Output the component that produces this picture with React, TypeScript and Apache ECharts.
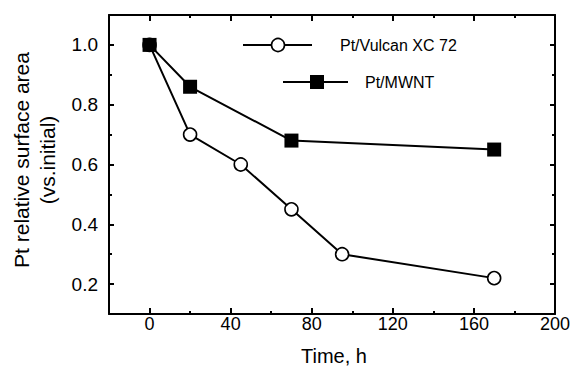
import React, { useEffect, useRef } from "react";
import * as echarts from "echarts";

const seriesNames = ["Pt/Vulcan XC 72", "Pt/MWNT"];
const vulcanTime = [0, 20, 45, 70, 95, 170];
const vulcanArea = [1.0, 0.7, 0.6, 0.45, 0.3, 0.22];
const mwntTime = [0, 20, 70, 170];
const mwntArea = [1.0, 0.86, 0.68, 0.65];
const xMajorTicks = [0, 40, 80, 120, 160, 200];
const xMinorTicks = [20, 60, 100, 140, 180];
const yMajorTicks = [0.2, 0.4, 0.6, 0.8, 1.0];
const yMinorTicks = [0.3, 0.5, 0.7, 0.9];
const xTitle = "Time, h";
const yTitle = "Pt relative surface area\n(vs.initial)";

const FONT = "'Liberation Sans', Arial, sans-serif";

export default function App() {
  const ref = useRef<HTMLDivElement>(null);
  useEffect(() => {
    document.body.style.margin = "0";
    const chart = echarts.init(ref.current!, undefined, { renderer: "svg" });
    const black = "#000";
    const mkX = (pos: string, vals: number[], len: number, labels: boolean, line: boolean) => ({
      type: "value",
      position: pos,
      min: -20,
      max: 200,
      splitLine: { show: false },
      axisLine: { show: line, onZero: false, lineStyle: { color: black, width: 2 } },
      axisTick: { show: true, inside: true, length: len, customValues: vals, lineStyle: { color: black, width: 2 } },
      axisLabel: labels
        ? { show: true, customValues: vals, color: black, fontSize: 18, fontFamily: FONT, margin: 1 }
        : { show: false },
    });
    const mkY = (pos: string, vals: number[], len: number, labels: boolean, line: boolean) => ({
      type: "value",
      position: pos,
      min: 0.1,
      max: 1.1,
      splitLine: { show: false },
      axisLine: { show: line, onZero: false, lineStyle: { color: black, width: 2 } },
      axisTick: { show: true, inside: true, length: len, customValues: vals, lineStyle: { color: black, width: 2 } },
      axisLabel: labels
        ? {
            show: true,
            customValues: vals,
            color: black,
            fontSize: 19,
            fontFamily: FONT,
            margin: 11,
            formatter: (v: number) => v.toFixed(1),
          }
        : { show: false },
    });
    chart.setOption({
      animation: false,
      grid: { left: 109, top: 15, right: 10, bottom: 55, containLabel: false },
      xAxis: [
        mkX("bottom", xMajorTicks, 6, true, true),
        mkX("bottom", xMinorTicks, 3, false, false),
        mkX("top", xMajorTicks, 6, false, true),
        mkX("top", xMinorTicks, 3, false, false),
      ],
      yAxis: [
        mkY("left", yMajorTicks, 5, true, true),
        mkY("left", yMinorTicks, 3, false, false),
        mkY("right", yMajorTicks, 5, false, true),
        mkY("right", yMinorTicks, 3, false, false),
      ],
      series: [
        {
          name: seriesNames[0],
          type: "line",
          xAxisIndex: 0,
          yAxisIndex: 0,
          data: vulcanTime.map((t, i) => [t, vulcanArea[i]]),
          symbol: "circle",
          symbolSize: 13,
          lineStyle: { color: black, width: 2 },
          itemStyle: { color: "#fff", borderColor: black, borderWidth: 1.6 },
          z: 2,
        },
        {
          name: seriesNames[1],
          type: "line",
          xAxisIndex: 0,
          yAxisIndex: 0,
          data: mwntTime.map((t, i) => [t, mwntArea[i]]),
          symbol: "rect",
          symbolSize: 14,
          lineStyle: { color: black, width: 2 },
          itemStyle: { color: black, borderColor: black, borderWidth: 0 },
          z: 3,
        },
      ],
      graphic: [
        { type: "line", shape: { x1: 243, y1: 45, x2: 312, y2: 45 }, style: { stroke: black, lineWidth: 2 } },
        { type: "circle", shape: { cx: 278, cy: 45, r: 6.5 }, style: { fill: "#fff", stroke: black, lineWidth: 1.6 } },
        {
          type: "text",
          x: 340,
          y: 45,
          style: { text: seriesNames[0], font: `16px ${FONT}`, fill: black, verticalAlign: "middle", align: "left" },
        },
        { type: "line", shape: { x1: 283, y1: 82, x2: 348, y2: 82 }, style: { stroke: black, lineWidth: 2 } },
        { type: "rect", shape: { x: 310, y: 75, width: 14, height: 14 }, style: { fill: black } },
        {
          type: "text",
          x: 365,
          y: 82,
          style: { text: seriesNames[1], font: `16px ${FONT}`, fill: black, verticalAlign: "middle", align: "left" },
        },
        {
          type: "text",
          x: 334,
          y: 356,
          style: { text: xTitle, font: `20px ${FONT}`, fill: black, verticalAlign: "middle", align: "center" },
        },
        {
          type: "text",
          x: 34,
          y: 160,
          rotation: Math.PI / 2,
          style: {
            text: yTitle,
            font: `21px ${FONT}`,
            lineHeight: 26,
            fill: black,
            verticalAlign: "middle",
            align: "center",
          },
        },
      ],
    });
    return () => chart.dispose();
  }, []);
  return <div ref={ref} style={{ width: 573, height: 369 }} />;
}
